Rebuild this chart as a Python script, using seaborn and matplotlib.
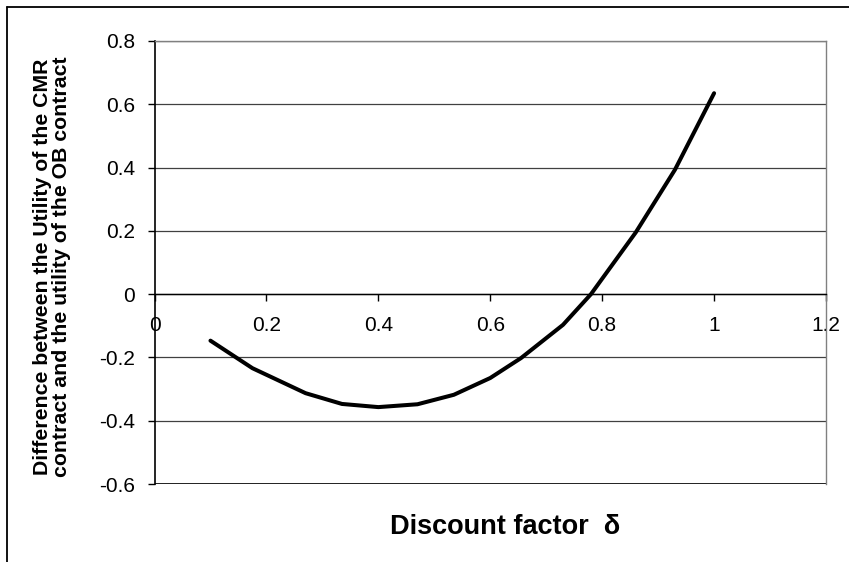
import numpy as np
import pandas as pd
import seaborn as sns
import matplotlib.pyplot as plt
from matplotlib.lines import Line2D

# values
delta = [0.10, 0.175, 0.27, 0.335, 0.40, 0.47, 0.535, 0.60, 0.655, 0.73, 0.78, 0.86, 0.93, 1.00]
diff = [-0.147, -0.234, -0.313, -0.347, -0.357, -0.348, -0.318, -0.265, -0.202, -0.097, 0.0, 0.195, 0.393, 0.635]

xticks = [0, 0.2, 0.4, 0.6, 0.8, 1.0, 1.2]
xticklabels = ['0', '0.2', '0.4', '0.6', '0.8', '1', '1.2']
yticks = [-0.6, -0.4, -0.2, 0, 0.2, 0.4, 0.6, 0.8]
yticklabels = ['-0.6', '-0.4', '-0.2', '0', '0.2', '0.4', '0.6', '0.8']

sns.set_style('white')
plt.rcParams['font.family'] = ['Liberation Sans', 'DejaVu Sans']
plt.rcParams['axes.unicode_minus'] = False
plt.rcParams['text.color'] = 'black'

df = pd.DataFrame({'delta': delta, 'diff': diff})

fig = plt.figure(figsize=(8.49, 5.62), dpi=100)
ax = fig.add_axes([154.5 / 849, 1 - 484 / 562, (826 - 154.5) / 849, (484 - 41) / 562])

sns.lineplot(data=df, x='delta', y='diff', ax=ax, sort=False, color='black',
             linewidth=2.9, zorder=3, solid_joinstyle='round', solid_capstyle='round')

ax.set_xlim(0, 1.2)
ax.set_ylim(-0.6, 0.8)
ax.set_xticks(xticks)
ax.set_xticklabels(xticklabels)
ax.set_yticks(yticks)
ax.set_yticklabels(yticklabels)
ax.set_xlabel('')
ax.set_ylabel('')

ax.grid(axis='y', color='#404040', linewidth=0.9)
ax.grid(axis='x', visible=False)
ax.axhline(-0.6, color='black', linewidth=1.2, zorder=2)

ax.spines['bottom'].set_position(('data', 0))
ax.spines['bottom'].set_color('black')
ax.spines['bottom'].set_linewidth(1.0)
ax.spines['left'].set_color('black')
ax.spines['left'].set_linewidth(1.2)
for s in ['top', 'right']:
    ax.spines[s].set_color('#808080')
    ax.spines[s].set_linewidth(1.0)

ax.tick_params(axis='x', direction='out', length=5, width=1, pad=11,
               labelsize=15, colors='black', bottom=True)
ax.tick_params(axis='y', direction='out', length=5, width=1, pad=9,
               labelsize=15, colors='black', left=True)

fig.text(505 / 849, 1 - 527 / 562, 'Discount factor  δ', ha='center', va='center',
         fontsize=19.5, fontweight='bold', color='black')
fig.text(52 / 849, 1 - 267 / 562,
         'Difference between the Utility of the CMR\ncontract and the utility of the OB contract',
         rotation=90, ha='center', va='center', multialignment='center',
         fontsize=15.3, fontweight='bold', linespacing=1.0, color='black')

# chart area border (top and left edges visible in the crop)
fig.add_artist(Line2D([7 / 849, 1], [1 - 7 / 562, 1 - 7 / 562], color='black', linewidth=1.3))
fig.add_artist(Line2D([7 / 849, 7 / 849], [0, 1 - 7 / 562], color='black', linewidth=1.3))

fig.savefig('out.png', dpi=100)
